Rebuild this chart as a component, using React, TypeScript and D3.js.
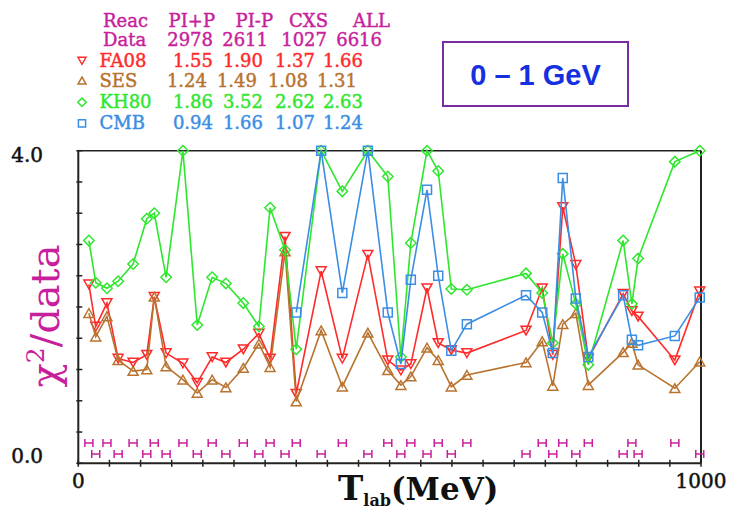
import * as d3 from 'd3'

// lab kinetic energies (MeV) of the points, shared by all fits
const energies = [17, 28, 46, 64, 88, 110, 122, 141, 168, 191, 215, 237, 265, 290, 308, 332, 350, 390, 424, 465, 497, 518, 534, 560, 578, 599, 624, 719, 745, 762, 778, 799, 819, 875, 889, 899, 958, 998]

const fa08 = [2.29, 1.75, 2.05, 1.34, 1.29, 1.39, 2.13, 1.41, 1.28, 1.03, 1.36, 1.29, 1.46, 1.66, 1.34, 2.90, 0.89, 2.46, 1.34, 2.67, 1.32, 1.19, 1.27, 2.24, 1.54, 1.45, 1.41, 1.70, 2.24, 1.39, 3.28, 2.54, 1.34, 2.17, 1.95, 1.88, 1.32, 2.20]
const ses = [1.92, 1.62, 1.88, 1.32, 1.18, 1.20, 2.13, 1.24, 1.07, 0.90, 1.07, 0.97, 1.22, 1.53, 1.23, 2.71, 0.79, 1.70, 0.98, 1.67, 1.19, 1.00, 1.11, 1.48, 1.32, 0.98, 1.13, 1.29, 1.56, 0.99, 1.78, 1.92, 1.00, 1.42, 1.54, 1.26, 0.96, 1.30]
const kh80 = [2.85, 2.31, 2.24, 2.33, 2.55, 3.13, 3.20, 2.38, 4.0, 1.77, 2.38, 2.30, 2.05, 1.75, 3.27, 2.73, 1.46, 4.0, 3.48, 4.0, 3.67, 1.36, 2.82, 4.0, 3.74, 2.23, 2.22, 2.43, 2.18, 1.54, 2.68, 2.04, 1.26, 2.85, 2.04, 2.62, 3.86, 4.0]
// CMB only starts at 350 MeV
const cmbStart = 16
const cmb = [1.93, 4.0, 2.18, 4.0, 1.93, 1.27, 2.35, 3.50, 2.40, 1.44, 1.78, 2.15, 1.93, 1.41, 3.65, 2.11, 1.36, 2.15, 1.58, 1.51, 1.63, 2.12]

// summary table
const reactions = ['PI+P', 'PI-P', 'CXS', 'ALL']
const dataCounts = ['2978', '2611', '1027', '6616']
const fitNames = ['FA08', 'SES', 'KH80', 'CMB']
const fitChi = [
  ['1.55', '1.90', '1.37', '1.66'],
  ['1.24', '1.49', '1.08', '1.31'],
  ['1.86', '3.52', '2.62', '2.63'],
  ['0.94', '1.66', '1.07', '1.24'],
]

const yTickLabels = ['0.0', '4.0']
const xTickLabels = ['0', '1000']

const W = 729, H = 511
const magenta = '#c81f9c'
const colors = ['#ff2a2a', '#b8732f', '#2fe62f', '#3a8ee4']
const shapes = ['down', 'up', 'diamond', 'square']

const x = d3.scaleLinear().domain([0, 1000]).range([78.3, 701])
const y = d3.scaleLinear().domain([0, 4]).range([463.3, 150.7])

const markerPath = (shape: string, s: number) => {
  const h = s / 2
  if (shape === 'down') return `M${-h},${-h * 0.85}L${h},${-h * 0.85}L0,${h * 0.9}Z`
  if (shape === 'up') return `M${-h},${h * 0.85}L${h},${h * 0.85}L0,${-h * 0.9}Z`
  if (shape === 'diamond') return `M0,${-h * 1.05}L${h * 1.05},0L0,${h * 1.05}L${-h * 1.05},0Z`
  return `M${-h * 0.9},${-h * 0.9}h${h * 1.8}v${h * 1.8}h${-h * 1.8}Z`
}

const series = [
  { pts: energies.map((e, i) => [e, fa08[i]]) },
  { pts: energies.map((e, i) => [e, ses[i]]) },
  { pts: energies.map((e, i) => [e, kh80[i]]) },
  { pts: cmb.map((v, i) => [energies[cmbStart + i], v]) },
]

const line = d3.line<number[]>().x(d => x(d[0])).y(d => y(d[1]))

const headEnds = [215, 273, 328, 390]
const dataEnds = [213, 268, 327, 382]
const rowEnds = [
  [213, 263, 315, 363],
  [207, 257, 308, 357],
  [213, 263, 315, 363],
  [213, 263, 315, 363],
]
const rowBase = [66.7, 86.7, 108.3, 129.3]

export default function App() {
  const serif = '"DejaVu Serif", serif'
  return (
    <svg width={W} height={H} style={{ position: 'absolute', left: 0, top: 0, background: '#fff' }}>
      {/* table */}
      <g fontFamily={serif} fontSize={18} strokeWidth={0.45}>
        <text x={103} y={26.7} fill={magenta} stroke={magenta}>Reac</text>
        {reactions.map((r, i) => (
          <text key={r} x={headEnds[i]} y={26.7} fill={magenta} stroke={magenta} textAnchor="end">{r}</text>
        ))}
        <text x={103} y={45.7} fill={magenta} stroke={magenta}>Data</text>
        {dataCounts.map((r, i) => (
          <text key={r} x={dataEnds[i]} y={45.7} fill={magenta} stroke={magenta} textAnchor="end">{r}</text>
        ))}
        {fitNames.map((name, j) => (
          <g key={name} fill={colors[j]} stroke={colors[j]}>
            <path d={markerPath(shapes[j], 8)} transform={`translate(82,${rowBase[j] - 6})`}
              fill="none" strokeWidth={1.5} />
            <text x={99.5} y={rowBase[j]}>{name}</text>
            {fitChi[j].map((v, i) => (
              <text key={i} x={rowEnds[j][i]} y={rowBase[j]} textAnchor="end">{v}</text>
            ))}
          </g>
        ))}
      </g>

      {/* energy range box */}
      <rect x={443} y={42} width={185} height={64} fill="none" stroke="#7a2c9e" strokeWidth={2} />
      <text x={535.5} y={85} textAnchor="middle" fontFamily='"Liberation Sans", sans-serif'
        fontWeight="bold" fontSize={29} fill="#1530e0">0 – 1 GeV</text>

      {/* frame */}
      <g stroke="#222" fill="none">
        <line x1={x(0)} x2={x(1000)} y1={y(4)} y2={y(4)} strokeWidth={1.5} />
        <line x1={x(1000)} x2={x(1000)} y1={y(4)} y2={y(0)} strokeWidth={2} />
        <line x1={x(0)} x2={x(0)} y1={y(4)} y2={y(0) + 1} strokeWidth={2} />
        <line x1={x(0) - 1} x2={x(1000)} y1={y(0)} y2={y(0)} strokeWidth={2} />
        {d3.range(0, 4.01, 0.4).map(v => (
          <line key={v} x1={x(0) - 2} x2={x(0) + 4} y1={y(v)} y2={y(v)} strokeWidth={1.5} />
        ))}
        {d3.range(0, 1001, 50).map(v => (
          <line key={v} x1={x(v)} x2={x(v)} y1={y(0) - 3.5} y2={y(0) + 3.5} strokeWidth={1.5} />
        ))}
      </g>

      {/* tick labels */}
      <g fontFamily={serif} fill="#111" stroke="#111" strokeWidth={0.5} fontSize={20}>
        <text x={43} y={y(4) + 11} textAnchor="end">{yTickLabels[1]}</text>
        <text x={43} y={y(0)} textAnchor="end">{yTickLabels[0]}</text>
        <text x={x(0)} y={488} textAnchor="middle">{xTickLabels[0]}</text>
        <text x={x(1000)} y={488} textAnchor="middle">{xTickLabels[1]}</text>
      </g>

      {/* axis titles */}
      <text transform="translate(59,316) rotate(-90)" textAnchor="middle" fontFamily={serif}
        fontSize={40} fill={magenta}>χ<tspan fontSize={25} dy={-15}>2</tspan><tspan dy={15}>/data</tspan></text>
      <text x={338} y={500} fontFamily={serif} fontWeight="bold" fontSize={34} fill="#111">T<tspan
        fontSize={16} dy={6}>lab</tspan><tspan fontSize={31} dy={-6}>(MeV)</tspan></text>

      {/* data positions */}
      <g stroke={magenta} strokeWidth={1.5} fill="none">
        {energies.map((e, i) => {
          const cx = x(e), cy = i % 2 === 0 ? 443 : 454
          return <path key={e} d={`M${cx - 4},${cy - 4}v8M${cx + 4},${cy - 4}v8M${cx - 4},${cy}h8`} />
        })}
      </g>

      {/* fits */}
      {series.map((s, j) => (
        <g key={j}>
          <path d={line(s.pts) ?? ''} fill="none" stroke={colors[j]} strokeWidth={1.6} />
          {s.pts.map((p, i) => (
            <path key={i} d={markerPath(shapes[j], 10)} transform={`translate(${x(p[0])},${y(p[1])})`}
              fill="none" stroke={colors[j]} strokeWidth={1.5} />
          ))}
        </g>
      ))}
    </svg>
  )
}
